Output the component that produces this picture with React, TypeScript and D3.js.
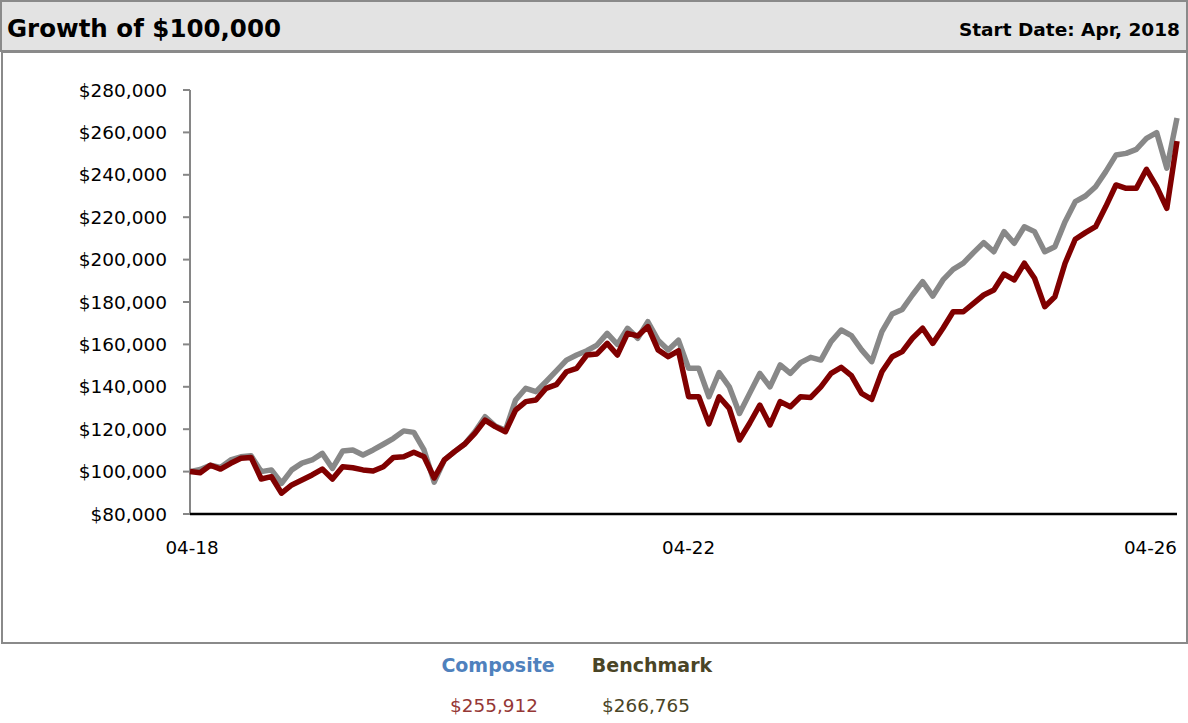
import React from "react";
import * as d3 from "d3";

const composite: number[] = [
  100000, 99500, 103000, 101200, 103900, 106300, 106700, 96500, 97600, 89800,
  93700, 96000, 98400, 101200, 96500, 102300, 101800, 100800, 100300, 102300,
  106700, 107000, 109100, 107000, 97000, 105500, 109400, 113000, 118000, 124300,
  121200, 118800, 129000, 133000, 133800, 139300, 141000, 147100, 148700, 155000,
  155500, 160500, 155000, 165200, 164000, 168400, 157400, 154200, 157000, 135300,
  135300, 122500, 135300, 129800, 114900, 122800, 131400, 122000, 133000, 130600,
  135300, 135000, 140000, 146300, 149200, 145300, 136900, 134100, 147100, 154200,
  156600, 162900, 167600, 160500, 167600, 175400, 175400, 179400, 183300, 185700,
  193200, 190400, 198300, 191200, 177800, 182500, 198300, 209600, 212700, 215500,
  225000, 235200, 233600, 233600, 242600, 234400, 224200, 255912,
];

const benchmark: number[] = [
  100000, 101000, 103000, 102000, 105500, 107000, 107500, 100000, 100800, 94500,
  100800, 104000, 105500, 108600, 101500, 109700, 110200, 107800, 110200, 112900,
  115700, 119200, 118500, 110200, 95000, 105500, 109400, 113000, 118800, 125900,
  121500, 119500, 133800, 139300, 137700, 142500, 147500, 152600, 155000, 157000,
  159700, 165200, 160000, 167600, 162900, 170700, 162000, 157400, 162000, 148700,
  148700, 135300, 146700, 140000, 127400, 136900, 146300, 140000, 150300, 146300,
  151400, 153900, 152600, 161300, 166800, 164100, 157400, 151900, 166000, 174300,
  176500, 183300, 189600, 182800, 190400, 195400, 198300, 203300, 208000, 203700,
  213200, 207700, 215500, 213200, 203700, 206100, 217900, 227300, 230000, 234400,
  241500, 249300, 250100, 252000, 257200, 259900, 243100, 266765,
];

const yTicks: number[] = [80000, 100000, 120000, 140000, 160000, 180000, 200000, 220000, 240000, 260000, 280000];
const xTickIndex: number[] = [0, 49, 97];
const xTickLabels: string[] = ["04-18", "04-22", "04-26"];
const seriesNames: string[] = ["Composite", "Benchmark"];
const finalValues: string[] = ["$255,912", "$266,765"];

const W = 1188;
const H = 723;
const FONT = "'DejaVu Sans', sans-serif";

export default function App() {
  const x = d3.scaleLinear().domain([0, composite.length - 1]).range([190, 1177]);
  const y = d3.scaleLinear().domain([80000, 280000]).range([514, 90]);
  const line = d3
    .line<number>()
    .x((_, i) => x(i))
    .y((d) => y(d));
  const fmt = d3.format("$,.0f");

  return (
    <svg
      width={W}
      height={H}
      style={{ position: "absolute", left: 0, top: 0, background: "#fff" }}
      fontFamily={FONT}
    >
      {/* header */}
      <rect x={1} y={1} width={1186} height={50} fill="#e3e3e3" stroke="#8a8a8a" strokeWidth={2} />
      <text x={7} y={37} fontSize={24.5} fontWeight="bold" fill="#000">
        Growth of $100,000
      </text>
      <text x={1180} y={36} fontSize={18.5} fontWeight="bold" textAnchor="end" fill="#000">
        Start Date: Apr, 2018
      </text>
      {/* chart box */}
      <rect x={2} y={52} width={1185} height={591} fill="#fff" stroke="#8a8a8a" strokeWidth={2} />

      {/* y axis */}
      <line x1={x(0)} x2={x(0)} y1={y(80000)} y2={y(280000)} stroke="#868686" strokeWidth={2} />
      {yTicks.map((t) => (
        <g key={t}>
          <line x1={x(0) - 7} x2={x(0)} y1={y(t)} y2={y(t)} stroke="#868686" strokeWidth={2} />
          <text x={167} y={y(t) + 6.5} fontSize={18.5} textAnchor="end" fill="#000">
            {fmt(t)}
          </text>
        </g>
      ))}

      {/* x axis */}
      <line x1={x(0)} x2={x(composite.length - 1)} y1={y(80000)} y2={y(80000)} stroke="#000" strokeWidth={2.5} />
      {xTickIndex.map((idx, k) => (
        <text
          key={idx}
          x={k === 0 ? x(idx) + 2 : x(idx)}
          y={554}
          fontSize={18.3}
          textAnchor={k === xTickIndex.length - 1 ? "end" : "middle"}
          fill="#000"
        >
          {xTickLabels[k]}
        </text>
      ))}

      {/* series */}
      <path d={line(benchmark) || ""} fill="none" stroke="#888888" strokeWidth={5.5} strokeLinejoin="round" />
      <path d={line(composite) || ""} fill="none" stroke="#800000" strokeWidth={5.5} strokeLinejoin="round" />

      {/* legend */}
      <text x={498} y={672} fontSize={19} fontWeight="bold" textAnchor="middle" fill="#4f81bd">
        {seriesNames[0]}
      </text>
      <text x={652} y={672} fontSize={19} fontWeight="bold" textAnchor="middle" fill="#4a4526">
        {seriesNames[1]}
      </text>
      <text x={494} y={712} fontSize={18.4} textAnchor="middle" fill="#953735">
        {finalValues[0]}
      </text>
      <text x={646} y={712} fontSize={18.4} textAnchor="middle" fill="#4a4526">
        {finalValues[1]}
      </text>
    </svg>
  );
}
